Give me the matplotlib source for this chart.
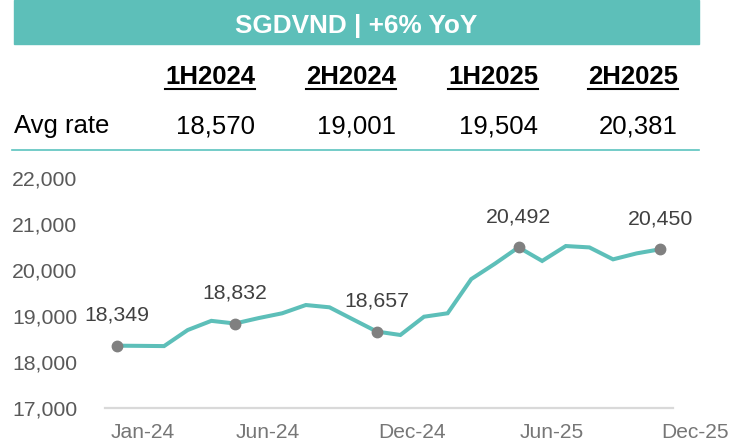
import matplotlib
matplotlib.use('Agg')
import matplotlib.pyplot as plt
from matplotlib.patches import Rectangle
from matplotlib.lines import Line2D

plt.rcParams['font.family'] = ['Liberation Sans', 'DejaVu Sans']

# monthly SGDVND, Dec-23 .. Nov-25
rate = [18349, 18345, 18340, 18690, 18890, 18832, 18950, 19055, 19235, 19185,
        18920, 18657, 18582, 18980, 19055, 19800, 20135, 20492, 20195, 20520,
        20490, 20230, 20360, 20450]
marked = [0, 5, 11, 17, 23]

periods = ['1H2024', '2H2024', '1H2025', '2H2025']
avg_rate = [18570, 19001, 19504, 20381]

xtick_labels = ['Jan-24', 'Jun-24', 'Dec-24', 'Jun-25', 'Dec-25']
xtick_pos = [1.11, 6.38, 12.48, 18.42, 24.46]
yticks = [17000, 18000, 19000, 20000, 21000, 22000]

title = 'SGDVND | +6% YoY'

teal = '#5DBFB9'
W, H = 731, 443

fig = plt.figure(figsize=(W / 100, H / 100), dpi=100)

def fx(px):
    return px / W

def fy(py):
    return 1 - py / H

# banner
fig.patches.append(Rectangle((fx(14.3), fy(43.7)), fx(698.5) - fx(14.3), fy(0) - fy(43.7),
                             transform=fig.transFigure, color=teal, zorder=0))
fig.text(fx(356), fy(33.3), title, color='white', fontsize=18.8, fontweight='bold',
         ha='center', va='baseline')

# table
col_right = [255, 396, 538, 678]
headers = []
for p, xr in zip(periods, col_right):
    headers.append(fig.text(fx(xr), fy(84.3), p, fontsize=18.5, fontweight='bold',
                            ha='right', va='baseline', color='black'))
fig.text(fx(14), fy(133.3), 'Avg rate', fontsize=18.5, ha='left', va='baseline')
for v, xr in zip(avg_rate, col_right):
    fig.text(fx(xr), fy(133.3), f'{v:,}', fontsize=18.5, ha='right', va='baseline')
fig.lines.append(Line2D([fx(12), fx(699)], [fy(150), fy(150)], transform=fig.transFigure,
                        color='#5BC4BF', lw=1.2))

# chart
ax = fig.add_axes([fx(105), fy(407.6), fx(673.3) - fx(105), fy(178.1) - fy(407.6)])
x = list(range(len(rate)))
ax.plot(x, rate, color=teal, lw=2.9, solid_joinstyle='miter', zorder=2)
ax.plot([x[i] for i in marked], [rate[i] for i in marked], 'o', color='#808080',
        ms=7.5, zorder=3)
for i in marked:
    ax.annotate(f'{rate[i]:,}', xy=(x[i], rate[i]), xytext=(0, 22), textcoords='offset points',
                ha='center', va='center', fontsize=15.3, color='#404040', annotation_clip=False)

ax.set_xlim(-0.5, 23.55)
ax.set_ylim(17000, 22000)
ax.set_yticks(yticks)
ax.set_yticklabels([f'{t:,}' for t in yticks], fontsize=15.3, color='#595959')
ax.tick_params(axis='y', length=0, pad=20)
ax.set_xticks([])
for lbl, pos in zip(xtick_labels, xtick_pos):
    ax.annotate(lbl, xy=(pos, 17000), xytext=(0, -21.8), textcoords='offset points',
                ha='center', va='baseline', fontsize=15.1, color='#767676',
                annotation_clip=False)
for s in ['top', 'right', 'left']:
    ax.spines[s].set_visible(False)
ax.spines['bottom'].set_color('#D9D9D9')
ax.spines['bottom'].set_linewidth(1.6)
ax.patch.set_alpha(0)

# underline headers
fig.canvas.draw()
r = fig.canvas.get_renderer()
for t in headers:
    bb = t.get_window_extent(r)
    fig.lines.append(Line2D([bb.x0 / W, bb.x1 / W], [fy(88.5), fy(88.5)],
                            transform=fig.transFigure, color='black', lw=1.5))

fig.savefig('out.png', dpi=100)
